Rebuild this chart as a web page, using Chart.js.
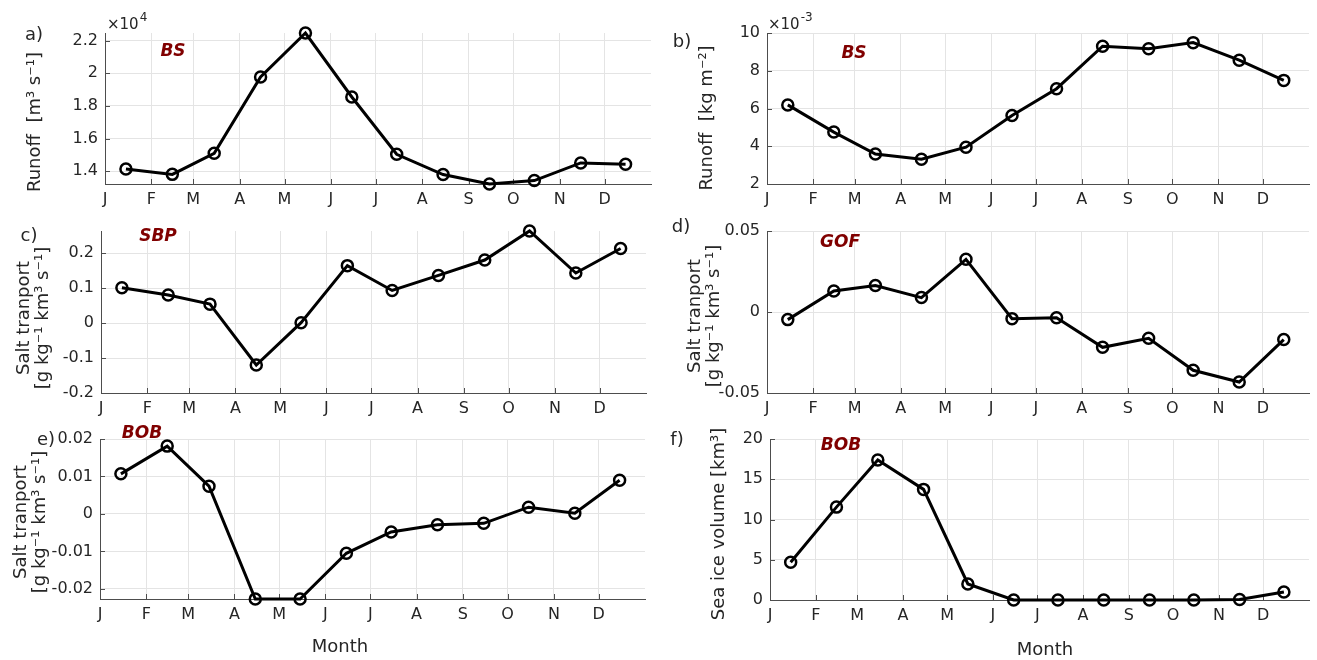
<!DOCTYPE html>
<html>
<head>
<meta charset="utf-8">
<script src="https://cdn.jsdelivr.net/npm/chart.js@4.4.1/dist/chart.umd.min.js"></script>
<style>
html,body{margin:0;padding:0;background:#fff;}
#wrap{position:relative;width:1317px;height:660px;overflow:hidden;background:#fff;}
#wrap canvas{position:absolute;left:0;top:0;}
</style>
</head>
<body>
<div id="wrap">
<canvas id="pa" width="1317" height="660"></canvas>
<canvas id="pb" width="1317" height="660"></canvas>
<canvas id="pc" width="1317" height="660"></canvas>
<canvas id="pd" width="1317" height="660"></canvas>
<canvas id="pe" width="1317" height="660"></canvas>
<canvas id="pf" width="1317" height="660"></canvas>
</div>
<script>
// ---------- data ----------
const monthLabels   = ['J','F','M','A','M','J','J','A','S','O','N','D'];
const monthStartDay = [1, 32, 60, 91, 121, 152, 182, 213, 244, 274, 305, 335];
const midMonthDay   = [15, 46, 74, 105, 135, 166, 196, 227, 258, 288, 319, 349];

// a) BS runoff [m3 s-1], in units of 1e4
const runoffBS_m3s = [1.414, 1.381, 1.510, 1.978, 2.247, 1.855, 1.504, 1.380, 1.322, 1.343, 1.451, 1.443];
// b) BS runoff [kg m-2], in units of 1e-3
const runoffBS_kgm2 = [6.19, 4.75, 3.59, 3.31, 3.95, 5.63, 7.05, 9.30, 9.17, 9.49, 8.56, 7.49];
// c) SBP salt transport
const saltSBP = [0.101, 0.080, 0.054, -0.120, 0.001, 0.164, 0.093, 0.136, 0.180, 0.263, 0.143, 0.213];
// d) GOF salt transport
const saltGOF = [-0.0047, 0.0130, 0.0163, 0.0089, 0.0325, -0.0041, -0.0035, -0.0218, -0.0162, -0.0360, -0.0432, -0.0170];
// e) BOB salt transport
const saltBOB = [0.0107, 0.0181, 0.0074, -0.0227, -0.0227, -0.0105, -0.0048, -0.0029, -0.0025, 0.0018, 0.0002, 0.0090];
// f) BOB sea ice volume [km3]
const iceBOB = [4.69, 11.54, 17.39, 13.74, 1.99, 0, 0, 0, 0, 0, 0.05, 1.0];

// y tick values
const ticksA = [1.4, 1.6, 1.8, 2, 2.2];
const ticksB = [2, 4, 6, 8, 10];
const ticksC = [-0.2, -0.1, 0, 0.1, 0.2];
const ticksD = [-0.05, 0, 0.05];
const ticksE = [-0.02, -0.01, 0, 0.01, 0.02];
const ticksF = [0, 5, 10, 15, 20];

// ---------- style ----------
const W = 1317, H = 660, XH = 30;
const FONT = "'DejaVu Sans', 'Liberation Sans', sans-serif";
const TXT = '#262626';
const DARKRED = '#800000';

const textPlugin = {
  id: 'panelText',
  afterDraw(chart, args, opts) {
    const ctx = chart.ctx;
    (opts.items || []).forEach(it => {
      ctx.save();
      ctx.font = it.font || ('18px ' + FONT);
      ctx.fillStyle = it.color || TXT;
      ctx.textAlign = it.align || 'center';
      ctx.textBaseline = it.baseline || 'middle';
      ctx.translate(it.x, it.y);
      if (it.rot) ctx.rotate(it.rot);
      ctx.fillText(it.text, 0, 0);
      if (it.sup) {
        const w = ctx.measureText(it.text).width;
        ctx.font = '12px ' + FONT;
        ctx.textAlign = 'left';
        ctx.fillText(it.sup, w + 1, -8);
      }
      ctx.restore();
    });
  }
};

const inwardTicks = {
  id: 'inwardTicks',
  beforeDatasetsDraw(chart) {
    const ctx = chart.ctx, a = chart.chartArea, xs = chart.scales.x, ys = chart.scales.y;
    ctx.save();
    ctx.strokeStyle = '#4d4d4d';
    ctx.lineWidth = 1;
    ctx.beginPath();
    xs.ticks.forEach(t => {
      const px = Math.round(xs.getPixelForValue(t.value)) + 0.5;
      if (px - a.left < 2) return;
      ctx.moveTo(px, a.bottom); ctx.lineTo(px, a.bottom - 5);
    });
    ys.ticks.forEach(t => {
      const py = Math.round(ys.getPixelForValue(t.value)) + 0.5;
      ctx.moveTo(a.left, py); ctx.lineTo(a.left + 5, py);
    });
    ctx.stroke();
    ctx.restore();
  }
};

function makePanel(id, values, yTicks, yMin, yMax, area, items) {
  new Chart(document.getElementById(id), {
    type: 'line',
    data: {
      datasets: [{
        data: midMonthDay.map((d, i) => ({ x: d, y: values[i] })),
        borderColor: '#000',
        borderWidth: 3,
        pointRadius: 5.5,
        pointBorderWidth: 2.5,
        pointBorderColor: '#000',
        pointBackgroundColor: 'rgba(0,0,0,0)',
        tension: 0,
        clip: false
      }]
    },
    options: {
      responsive: false,
      animation: false,
      events: [],
      layout: { padding: { left: 0, top: area.t, right: W - area.r, bottom: H - area.b - XH } },
      plugins: {
        legend: { display: false },
        tooltip: { enabled: false },
        panelText: { items: items }
      },
      scales: {
        x: {
          type: 'linear',
          min: 1, max: 366,
          afterBuildTicks: s => { s.ticks = monthStartDay.map(v => ({ value: v })); },
          afterFit: s => { s.height = XH; },
          grid: { color: '#e4e4e4', lineWidth: 1, drawTicks: false },
          border: { display: true, color: '#4d4d4d', width: 1 },
          ticks: {
            autoSkip: false, maxRotation: 0, padding: 6,
            color: TXT, font: { family: FONT, size: 16 },
            callback: (v, i) => monthLabels[i]
          }
        },
        y: {
          type: 'linear',
          min: yMin, max: yMax,
          afterBuildTicks: s => { s.ticks = yTicks.map(v => ({ value: v })); },
          afterFit: s => { s.width = area.l; },
          grid: { color: '#e4e4e4', lineWidth: 1, drawTicks: false },
          border: { display: true, color: '#4d4d4d', width: 1 },
          ticks: {
            padding: 7, color: TXT, font: { family: FONT, size: 16 },
            callback: v => String(v)
          }
        }
      }
    },
    plugins: [inwardTicks, textPlugin]
  });
}

const R90 = -Math.PI / 2;
const F18 = '18px ' + FONT;
const LBL = 'italic bold 17px ' + FONT;

makePanel('pa', runoffBS_m3s, ticksA, Math.min(...runoffBS_m3s), Math.max(...runoffBS_m3s),
  { l: 105, t: 33, r: 651, b: 184 }, [
    { text: 'a)', x: 34, y: 35, font: F18 },
    { text: 'BS', x: 173, y: 52, font: LBL, color: DARKRED },
    { text: '×10', sup: '4', x: 107, y: 29, font: '15px ' + FONT, align: 'left', baseline: 'alphabetic' },
    { text: 'Runoff  [m³ s⁻¹]', x: 35, y: 122, rot: R90, font: F18 }
  ]);

makePanel('pb', runoffBS_kgm2, ticksB, 2, 10,
  { l: 767, t: 33, r: 1312, b: 184 }, [
    { text: 'b)', x: 682, y: 42, font: F18 },
    { text: 'BS', x: 854, y: 54, font: LBL, color: DARKRED },
    { text: '×10', sup: '-3', x: 768, y: 29, font: '15px ' + FONT, align: 'left', baseline: 'alphabetic' },
    { text: 'Runoff  [kg m⁻²]', x: 707, y: 118, rot: R90, font: F18 }
  ]);

makePanel('pc', saltSBP, ticksC, -0.2, Math.max(...saltSBP),
  { l: 101, t: 231, r: 646, b: 393 }, [
    { text: 'c)', x: 29, y: 236, font: F18 },
    { text: 'SBP', x: 158, y: 237, font: LBL, color: DARKRED },
    { text: 'Salt tranport', x: 24, y: 318, rot: R90, font: F18 },
    { text: '[g kg⁻¹ km³ s⁻¹]', x: 43, y: 318, rot: R90, font: F18 }
  ]);

makePanel('pd', saltGOF, ticksD, -0.05, 0.05,
  { l: 767, t: 231, r: 1312, b: 393 }, [
    { text: 'd)', x: 681, y: 227, font: F18 },
    { text: 'GOF', x: 840, y: 243, font: LBL, color: DARKRED },
    { text: 'Salt tranport', x: 695, y: 316, rot: R90, font: F18 },
    { text: '[g kg⁻¹ km³ s⁻¹]', x: 714, y: 316, rot: R90, font: F18 }
  ]);

makePanel('pe', saltBOB, ticksE, Math.min(...saltBOB), 0.02,
  { l: 100, t: 439, r: 645, b: 599 }, [
    { text: 'e)', x: 46, y: 440, font: F18 },
    { text: 'BOB', x: 142, y: 434, font: LBL, color: DARKRED },
    { text: 'Salt tranport', x: 21, y: 522, rot: R90, font: F18 },
    { text: '[g kg⁻¹ km³ s⁻¹]', x: 40, y: 522, rot: R90, font: F18 },
    { text: 'Month', x: 340, y: 647, font: F18 }
  ]);

makePanel('pf', iceBOB, ticksF, 0, 20,
  { l: 770, t: 439, r: 1315, b: 600 }, [
    { text: 'f)', x: 677, y: 440, font: F18 },
    { text: 'BOB', x: 841, y: 446, font: LBL, color: DARKRED },
    { text: 'Sea ice volume [km³]', x: 719, y: 524, rot: R90, font: F18 },
    { text: 'Month', x: 1045, y: 650, font: F18 }
  ]);
</script>
</body>
</html>
